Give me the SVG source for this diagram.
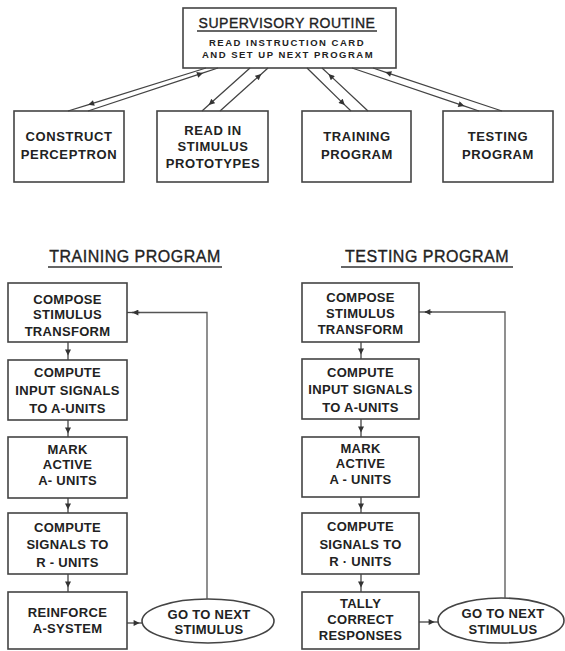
<svg xmlns="http://www.w3.org/2000/svg" width="565" height="651" viewBox="0 0 565 651">
  <defs>
    <marker id="ah" viewBox="0 0 10 10" refX="9" refY="5" markerWidth="7" markerHeight="6" markerUnits="userSpaceOnUse" orient="auto">
      <path d="M0,0 L10,5 L0,10 Z" fill="#333"/>
    </marker>
    <style>
      .box { fill: #fff; stroke: #444; stroke-width: 1.6; }
      .ell { fill: #fff; stroke: #444; stroke-width: 1.6; }
      .ln { fill: none; stroke: #444; stroke-width: 1.3; marker-mid: url(#ah); }
      .fb { fill: none; stroke: #555; stroke-width: 1.3; }
      .t { font-family: "Liberation Sans", Arial, sans-serif; font-weight: bold; fill: #222; text-anchor: middle; }
      .bt { font-size: 13px; letter-spacing: 0.6px; }
      .ft { font-size: 13px; letter-spacing: 0.3px; }
      .small { font-size: 9.5px; letter-spacing: 1.5px; }
      .head { font-family: "Liberation Sans", Arial, sans-serif; fill: #222; stroke: #222; stroke-width: 0.35; text-anchor: middle; }
      .ul { stroke: #333; stroke-width: 1.3; }
    </style>
  </defs>

  <rect width="565" height="651" fill="#fff"/>

  <!-- top level: supervisory routine and its four programs -->
  <g id="supervisory">
    <rect class="box" x="183" y="8" width="213" height="60"/>
    <text class="head" x="287" y="28" font-size="14" letter-spacing="0.5">SUPERVISORY ROUTINE</text>
    <line class="ul" x1="197" y1="31" x2="377" y2="31"/>
    <text class="t small" x="287" y="46">READ INSTRUCTION CARD</text>
    <text class="t small" x="288" y="58">AND SET UP NEXT PROGRAM</text>
  </g>

  <g id="construct">
    <rect class="box" x="14" y="111" width="110" height="71"/>
    <text class="t bt" x="69" y="141">CONSTRUCT</text>
    <text class="t bt" x="69" y="159">PERCEPTRON</text>
  </g>

  <g id="read-in">
    <rect class="box" x="157" y="111" width="111" height="71"/>
    <text class="t bt" x="213" y="135">READ IN</text>
    <text class="t bt" x="213" y="151">STIMULUS</text>
    <text class="t bt" x="213" y="168">PROTOTYPES</text>
  </g>

  <g id="training">
    <rect class="box" x="302" y="111" width="109" height="71"/>
    <text class="t bt" x="357" y="141">TRAINING</text>
    <text class="t bt" x="357" y="159">PROGRAM</text>
  </g>

  <g id="testing">
    <rect class="box" x="443" y="111" width="110" height="71"/>
    <text class="t bt" x="498" y="141">TESTING</text>
    <text class="t bt" x="498" y="159">PROGRAM</text>
  </g>

  <!-- section headings -->
  <g id="training-heading">
    <text class="head" x="135" y="262" font-size="16" letter-spacing="0.5">TRAINING PROGRAM</text>
    <line class="ul" x1="48" y1="267" x2="222" y2="267"/>
  </g>
  <g id="testing-heading">
    <text class="head" x="427" y="262" font-size="16" letter-spacing="0.5">TESTING PROGRAM</text>
    <line class="ul" x1="341" y1="267" x2="513" y2="267"/>
  </g>

  <!-- training program flow -->
  <g id="tr-compose">
    <rect class="box" x="8" y="283" width="119" height="59"/>
    <text class="t ft" x="67.5" y="304">COMPOSE</text>
    <text class="t ft" x="67.5" y="319">STIMULUS</text>
    <text class="t ft" x="67.5" y="336">TRANSFORM</text>
  </g>
  <g id="tr-input">
    <rect class="box" x="8" y="360" width="119" height="60"/>
    <text class="t ft" x="67.5" y="377">COMPUTE</text>
    <text class="t ft" x="67.5" y="395">INPUT SIGNALS</text>
    <text class="t ft" x="67.5" y="413">TO A-UNITS</text>
  </g>
  <g id="tr-mark">
    <rect class="box" x="8" y="437" width="119" height="61"/>
    <text class="t ft" x="67.5" y="454">MARK</text>
    <text class="t ft" x="67.5" y="469">ACTIVE</text>
    <text class="t ft" x="67.5" y="485">A- UNITS</text>
  </g>
  <g id="tr-signals">
    <rect class="box" x="8" y="513" width="119" height="61"/>
    <text class="t ft" x="67.5" y="532">COMPUTE</text>
    <text class="t ft" x="67.5" y="549">SIGNALS TO</text>
    <text class="t ft" x="67.5" y="567">R - UNITS</text>
  </g>
  <g id="tr-reinforce">
    <rect class="box" x="8" y="592" width="119" height="57"/>
    <text class="t ft" x="67.5" y="617">REINFORCE</text>
    <text class="t ft" x="67.5" y="633">A-SYSTEM</text>
  </g>
  <g id="tr-next">
    <ellipse class="ell" cx="208" cy="621" rx="66" ry="22"/>
    <text class="t ft" x="209" y="619">GO TO NEXT</text>
    <text class="t ft" x="209" y="634">STIMULUS</text>
  </g>

  <!-- testing program flow -->
  <g id="ts-compose">
    <rect class="box" x="302" y="283" width="117" height="59"/>
    <text class="t ft" x="360.5" y="302">COMPOSE</text>
    <text class="t ft" x="360.5" y="318">STIMULUS</text>
    <text class="t ft" x="360.5" y="334">TRANSFORM</text>
  </g>
  <g id="ts-input">
    <rect class="box" x="302" y="359" width="117" height="60"/>
    <text class="t ft" x="360.5" y="377">COMPUTE</text>
    <text class="t ft" x="360.5" y="394">INPUT SIGNALS</text>
    <text class="t ft" x="360.5" y="412">TO A-UNITS</text>
  </g>
  <g id="ts-mark">
    <rect class="box" x="302" y="437" width="117" height="60"/>
    <text class="t ft" x="360.5" y="453">MARK</text>
    <text class="t ft" x="360.5" y="468">ACTIVE</text>
    <text class="t ft" x="360.5" y="484">A - UNITS</text>
  </g>
  <g id="ts-signals">
    <rect class="box" x="302" y="513" width="117" height="61"/>
    <text class="t ft" x="360.5" y="531">COMPUTE</text>
    <text class="t ft" x="360.5" y="549">SIGNALS TO</text>
    <text class="t ft" x="360.5" y="566">R · UNITS</text>
  </g>
  <g id="ts-tally">
    <rect class="box" x="302" y="592" width="117" height="57"/>
    <text class="t ft" x="360.5" y="608">TALLY</text>
    <text class="t ft" x="360.5" y="624">CORRECT</text>
    <text class="t ft" x="360.5" y="640">RESPONSES</text>
  </g>
  <g id="ts-next">
    <ellipse class="ell" cx="501" cy="620.5" rx="63" ry="22.5"/>
    <text class="t ft" x="503" y="618">GO TO NEXT</text>
    <text class="t ft" x="503" y="634">STIMULUS</text>
  </g>

  <!-- connectors -->
  <g id="connectors">
    <!-- supervisory <-> programs, one line each way -->
    <path class="ln" d="M206,68 L88.7,104.6 L68,111"/>
    <path class="ln" d="M88,111 L202.4,73.2 L218,68"/>
    <path class="ln" d="M250,68 L209.2,104.6 L202,111"/>
    <path class="ln" d="M220,111 L260.8,74.4 L268,68"/>
    <path class="ln" d="M307,68 L344.4,104.6 L351,111"/>
    <path class="ln" d="M368,111 L328.9,74.4 L322,68"/>
    <path class="ln" d="M352,68 L463.8,105.8 L479,111"/>
    <path class="ln" d="M502,111 L385.9,72.3 L373,68"/>

    <!-- training flow -->
    <path class="ln" d="M68,342 L68,355 L68,360"/>
    <path class="ln" d="M68,420 L68,433 L68,437"/>
    <path class="ln" d="M68,498 L68,509 L68,513"/>
    <path class="ln" d="M68,574 L68,587 L68,592"/>
    <path class="ln" d="M127,623 L139,623 L142,623"/>
    <path class="fb" d="M207,599 L207,312.5 L132,312.5"/>
    <path class="ln" d="M140,312.5 L133,312.5 L127,312.5"/>

    <!-- testing flow -->
    <path class="ln" d="M361,342 L361,354 L361,359"/>
    <path class="ln" d="M361,419 L361,432 L361,437"/>
    <path class="ln" d="M361,497 L361,509 L361,513"/>
    <path class="ln" d="M361,574 L361,587 L361,592"/>
    <path class="ln" d="M419,622 L434,622 L438,622"/>
    <path class="fb" d="M505,598 L505,312 L425,312"/>
    <path class="ln" d="M432,312 L425,312 L419,312"/>
  </g>
</svg>
